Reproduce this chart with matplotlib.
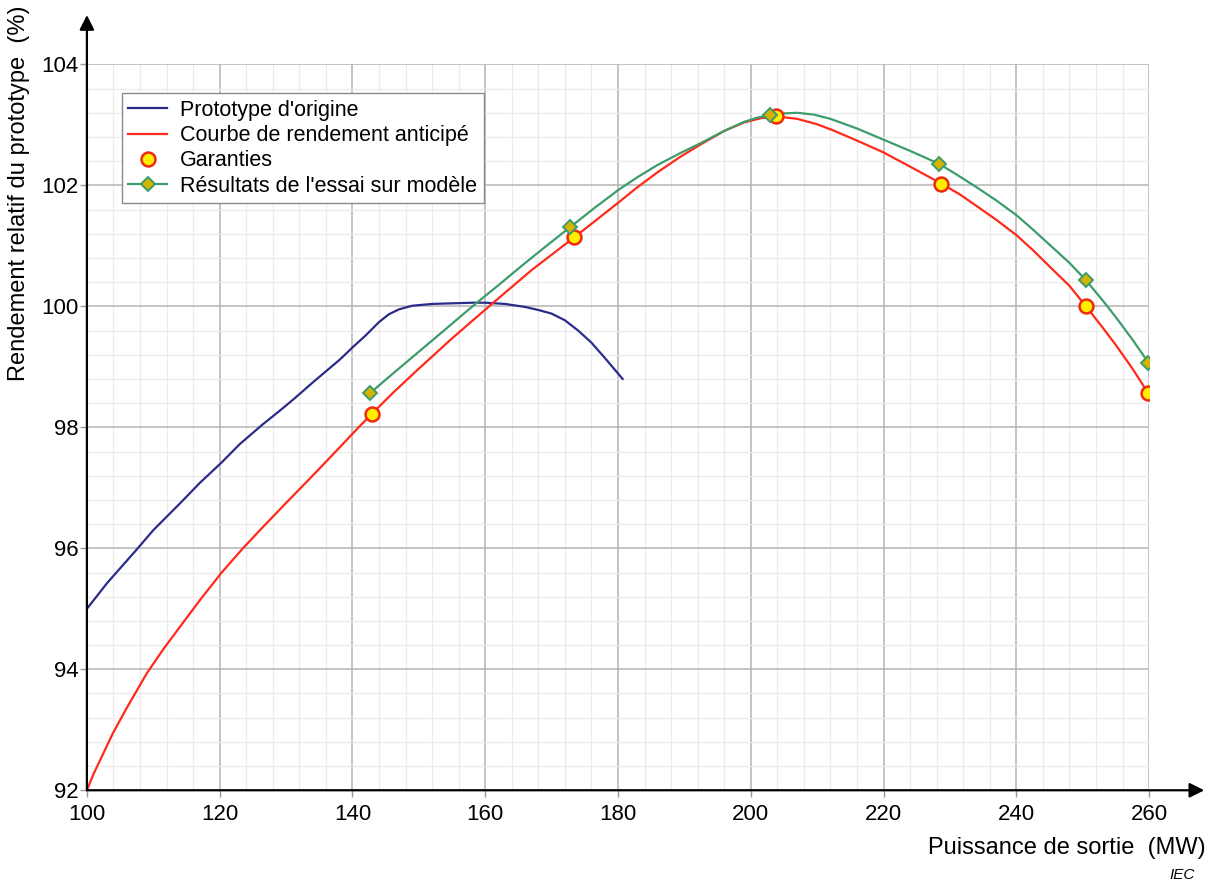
import numpy as np
import matplotlib.pyplot as plt
from matplotlib.ticker import MultipleLocator

# Prototype d'origine
proto_x = [100, 103, 107.5, 110, 114, 117, 120.3, 123, 126.5, 129, 131.3, 134, 138.1,
           140, 142, 144, 145.5, 147, 149, 152, 155, 158.1, 160, 163, 166, 168, 170,
           172, 174, 176, 178, 180.7]
proto_y = [95.0, 95.42, 95.98, 96.3, 96.74, 97.08, 97.42, 97.72, 98.05, 98.27, 98.48,
           98.74, 99.12, 99.32, 99.52, 99.74, 99.87, 99.95, 100.01, 100.04, 100.05,
           100.06, 100.06, 100.04, 99.99, 99.94, 99.88, 99.77, 99.6, 99.4, 99.15, 98.8]

# Courbe de rendement anticipé
antic_x = [100, 101, 102, 103.9, 106, 109, 111.5, 114, 117, 120.3, 123.5, 126.5, 130,
           134, 138, 141.1, 142.9, 146, 150, 155, 161, 167, 173.4, 177, 180, 182.7, 186,
           189.5, 192.5, 196, 199, 201.5, 203.8, 207, 210, 212.4, 216, 219.9, 224, 228.7,
           231.5, 234, 237, 240.1, 242.5, 245, 248, 250.5, 253, 255, 257.5, 259.9]
antic_y = [92.0, 92.27, 92.5, 92.94, 93.36, 93.93, 94.33, 94.7, 95.14, 95.6, 96.0,
           96.35, 96.75, 97.2, 97.66, 98.02, 98.22, 98.56, 98.97, 99.47, 100.04, 100.6,
           101.14, 101.45, 101.71, 101.95, 102.22, 102.48, 102.68, 102.9, 103.04,
           103.11, 103.14, 103.1, 103.01, 102.91, 102.74, 102.55, 102.31, 102.03, 101.85,
           101.66, 101.43, 101.17, 100.93, 100.66, 100.34, 100.0, 99.65, 99.36, 98.97,
           98.56]

# Garanties
gar_x = [142.9, 173.4, 203.8, 228.7, 250.5, 259.9]
gar_y = [98.22, 101.14, 103.14, 102.03, 100.0, 98.56]

# Résultats de l'essai sur modèle
mod_x = [142.6, 146, 150, 154, 158.4, 162, 165.5, 169, 172.8, 176.5, 180, 183, 186,
         189.5, 192.5, 196, 199, 201, 202.9, 205, 207, 209.5, 212, 216, 219.9, 224,
         228.3, 231, 234, 237, 240.1, 242.5, 245, 248, 250.5, 253, 255, 257.5, 259.9]
mod_y = [98.56, 98.88, 99.25, 99.62, 100.03, 100.35, 100.67, 100.98, 101.31, 101.63,
         101.92, 102.14, 102.34, 102.54, 102.7, 102.9, 103.05, 103.12, 103.16, 103.19,
         103.2, 103.17, 103.1, 102.94, 102.76, 102.57, 102.36, 102.18, 101.97, 101.75,
         101.5, 101.27, 101.02, 100.72, 100.43, 100.1, 99.82, 99.45, 99.07]
mod_pts_x = [142.6, 172.8, 202.9, 228.3, 250.5, 259.9]
mod_pts_y = [98.56, 101.31, 103.16, 102.36, 100.43, 99.07]

plt.rcParams['font.family'] = ['Liberation Sans', 'DejaVu Sans']

fig = plt.figure(figsize=(12.07, 8.82), dpi=100)
ax = fig.add_axes([0.072, 0.104, 0.880, 0.823])

ax.set_xlim(100, 260)
ax.set_ylim(92, 104)
ax.xaxis.set_major_locator(MultipleLocator(20))
ax.xaxis.set_minor_locator(MultipleLocator(4))
ax.yaxis.set_major_locator(MultipleLocator(2))
ax.yaxis.set_minor_locator(MultipleLocator(0.4))
ax.grid(which='major', color='#b4b4b4', lw=1.1)
ax.grid(which='minor', color='#ebebeb', lw=0.9)
ax.set_axisbelow(True)
ax.tick_params(which='major', length=5, width=1, color='#9a9a9a', labelsize=16)
ax.tick_params(axis='y', pad=1)
ax.tick_params(axis='x', pad=5)
ax.tick_params(which='minor', length=0)
for s in ax.spines.values():
    s.set_visible(False)

arrow = dict(arrowstyle='-|>', lw=1.6, color='black', mutation_scale=22,
             shrinkA=0, shrinkB=0)
ax.annotate('', xy=(0, 1.068), xytext=(0, 0), xycoords='axes fraction',
            textcoords='axes fraction', arrowprops=arrow, annotation_clip=False)
ax.annotate('', xy=(1.052, 0), xytext=(0, 0), xycoords='axes fraction',
            textcoords='axes fraction', arrowprops=arrow, annotation_clip=False)

ax.plot(proto_x, proto_y, color='#2b2c8a', lw=1.6, label="Prototype d'origine")
ax.plot(antic_x, antic_y, color='#ff2a1a', lw=1.6, label='Courbe de rendement anticipé')
ax.plot(gar_x, gar_y, ls='none', marker='o', ms=10, mfc='#ffee00', mec='#f02a10',
        mew=1.8, label='Garanties', zorder=4)
ax.plot(mod_x, mod_y, color='#3d9c6c', lw=1.6, zorder=3)
ax.plot(mod_pts_x, mod_pts_y, color='#3d9c6c', lw=0, marker='D', ms=7.5,
        mfc='#d4b400', mec='#3d9c6c', mew=1.4, zorder=5)
ax.plot([], [], color='#3d9c6c', lw=1.6, marker='D', ms=7.5, mfc='#d4b400',
        mec='#3d9c6c', mew=1.4, label="Résultats de l'essai sur modèle")

leg = ax.legend(loc='upper left', bbox_to_anchor=(0.033, 0.96), borderaxespad=0,
                fontsize=15.5, frameon=True, fancybox=False, framealpha=1,
                edgecolor='#8a8a8a', handlelength=1.8, labelspacing=0.2,
                borderpad=0.3, handletextpad=0.6)
leg.get_frame().set_linewidth(1.0)

fig.text(0.9985, 0.038, 'Puissance de sortie  (MW)', ha='right', va='center', fontsize=17)
fig.text(0.016, 0.994, 'Rendement relatif du prototype  (%)', rotation=90,
         ha='center', va='top', fontsize=17)
fig.text(0.99, 0.0, 'IEC', ha='right', va='bottom', fontsize=11, style='italic')

fig.savefig('out.png', dpi=100)
